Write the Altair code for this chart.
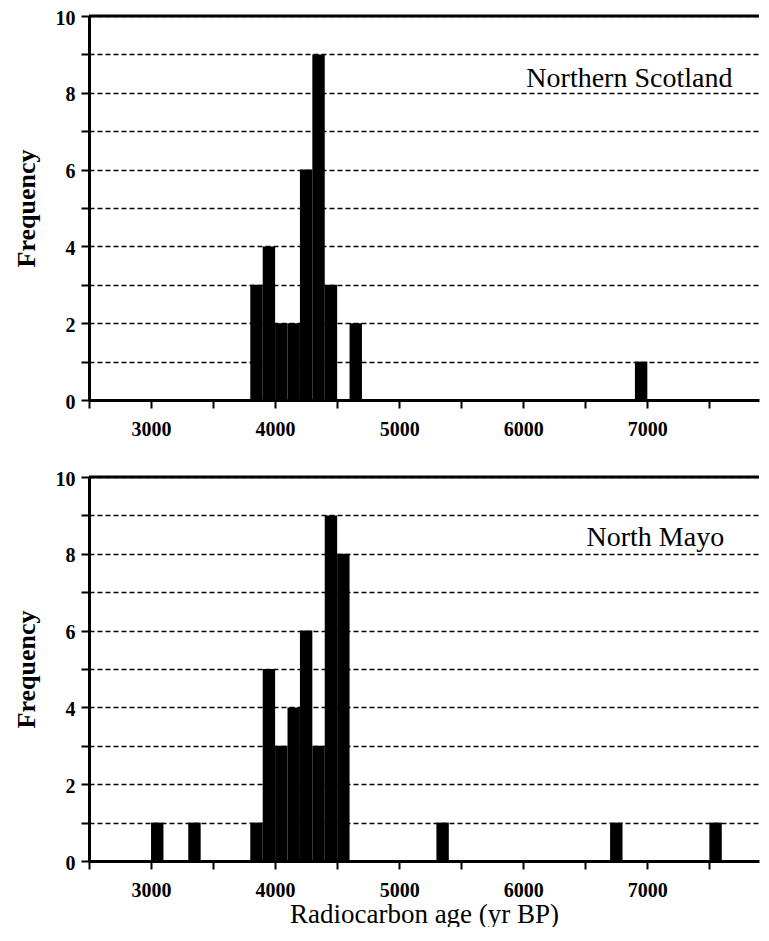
import altair as alt
import pandas as pd

# Histogram bins (start of 100-yr bin) and counts
scot_start = [3800, 3900, 4000, 4100, 4200, 4300, 4400, 4600, 6900]
scot_count = [3, 4, 2, 2, 6, 9, 3, 2, 1]
mayo_start = [3000, 3300, 3800, 3900, 4000, 4100, 4200, 4300, 4400, 4500, 5300, 6700, 7500]
mayo_count = [1, 1, 1, 5, 3, 4, 6, 3, 9, 8, 1, 1, 1]
bin_width = 100

panel_names = ["Northern Scotland", "North Mayo"]
label_x = [6025, 6510]
label_y = [8.15, 8.2]

x_ticks = list(range(2500, 8000, 500))
y_ticks = list(range(0, 11))

FONT = "Liberation Serif"
W, H = 670, 384


def panel(starts, counts, name, lx, ly, show_title):
    df = pd.DataFrame({"start": starts, "count": counts})
    df["end"] = df["start"] + bin_width
    df["zero"] = 0
    df["top"] = 10
    xaxis = alt.Axis(
        values=x_ticks,
        labelExpr="datum.value % 1000 == 0 ? datum.label : ''",
        format="d",
        grid=False,
        title="Radiocarbon age (yr BP)" if show_title else None,
    )
    xs = alt.Scale(domain=[2500, 7900], nice=False, zero=False)
    ys = alt.Scale(domain=[0, 10], nice=False, zero=False)
    yaxis = alt.Axis(
        values=y_ticks,
        labelExpr="datum.value % 2 == 0 ? datum.label : ''",
        grid=True,
        title="Frequency",
    )
    bars = alt.Chart(df).mark_rect(color="black").encode(
        x=alt.X("start:Q", scale=xs, axis=xaxis),
        x2="end:Q",
        y=alt.Y("count:Q", scale=ys, axis=yaxis),
        y2="zero:Q",
    )
    top_rule = alt.Chart(df.head(1)).mark_rule(color="black", strokeWidth=3).encode(
        y=alt.Y("top:Q", scale=ys, axis=yaxis)
    )
    lab_df = pd.DataFrame({"x": [lx], "y": [ly], "t": [name]})
    label = alt.Chart(lab_df).mark_text(
        align="left", baseline="alphabetic", font=FONT, fontSize=28, color="black"
    ).encode(
        x=alt.X("x:Q", scale=xs, axis=xaxis),
        y=alt.Y("y:Q", scale=ys, axis=yaxis),
        text="t:N",
    )
    return alt.layer(bars, top_rule, label).properties(width=W, height=H)


top = panel(scot_start, scot_count, panel_names[0], label_x[0], label_y[0], False)
bottom = panel(mayo_start, mayo_count, panel_names[1], label_x[1], label_y[1], True)

chart = (
    alt.vconcat(top, bottom, spacing=77, bounds="flush")
    .properties(padding={"left": 5, "top": 0, "right": 0, "bottom": 0})
    .configure_view(stroke=None)
    .configure_axis(
        domainColor="black",
        domainWidth=3,
        tickColor="black",
        tickWidth=2,
        tickSize=8,
        labelColor="black",
        labelFont=FONT,
        labelFontSize=20,
        labelFontWeight="bold",
        titleColor="black",
        titleFont=FONT,
        gridColor="black",
        gridDash=[5, 3],
        gridWidth=1.6,
        gridOpacity=1,
    )
    .configure_axisX(
        labelPadding=11,
        titleFontSize=27,
        titleFontWeight="normal",
        titleY=61,
        titleBaseline="alphabetic",
    )
    .configure_axisY(
        labelPadding=6,
        labelOffset=2,
        titleFontSize=26,
        titleFontWeight="bold",
        titlePadding=16,
    )
)

chart.save("out.html", embed_options={"renderer": "svg", "actions": False})
